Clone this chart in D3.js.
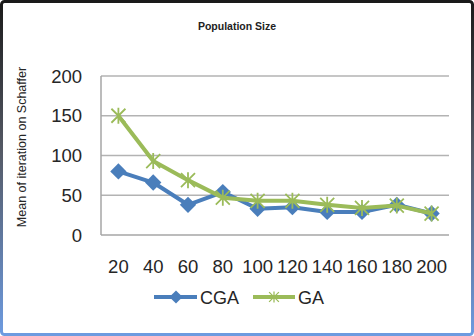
<!DOCTYPE html>
<html>
<head>
<meta charset="utf-8">
<script src="https://cdn.jsdelivr.net/npm/d3@7"></script>
<style>
  body { margin: 0; background: #fff; }
  svg { display: block; font-family: "Liberation Sans", Arial, sans-serif; }
</style>
</head>
<body>
<script>
// data
var categories = [20, 40, 60, 80, 100, 120, 140, 160, 180, 200];
var cga = [80, 66, 38, 54, 33, 35, 29, 29, 38, 27];
var ga = [150, 93, 69, 47, 43, 43, 38, 34, 37, 27];
var yTicks = [0, 50, 100, 150, 200];

var width = 474, height = 336;

var svg = d3.select("body").append("svg")
    .attr("width", width)
    .attr("height", height);

// frame with dark top fading to blue at the bottom
var grad = svg.append("defs").append("linearGradient")
    .attr("id", "frame")
    .attr("x1", 0).attr("y1", 0).attr("x2", 0).attr("y2", 1);
grad.append("stop").attr("offset", "0%").attr("stop-color", "#1a1a1a");
grad.append("stop").attr("offset", "45%").attr("stop-color", "#555a66");
grad.append("stop").attr("offset", "100%").attr("stop-color", "#6d9be0");

svg.append("rect")
    .attr("x", 1.5).attr("y", 1.5)
    .attr("width", width - 3).attr("height", height - 3)
    .attr("rx", 3)
    .style("fill", "#fff")
    .style("stroke", "url(#frame)")
    .style("stroke-width", 3);

var x = d3.scaleBand().domain(categories).range([101, 449]);
var y = d3.scaleLinear().domain([0, 200]).range([235, 76]);

// gridlines
svg.selectAll(".grid")
    .data(yTicks.filter(function (d) { return d > 0; }))
    .enter().append("line")
    .attr("x1", 101).attr("x2", 449)
    .attr("y1", function (d) { return y(d); })
    .attr("y2", function (d) { return y(d); })
    .style("stroke", "#b3b3b3")
    .style("stroke-width", 1.5);

// axes lines
svg.append("line")
    .attr("x1", 101).attr("x2", 101).attr("y1", y(200)).attr("y2", y(0))
    .style("stroke", "#a6a6a6").style("stroke-width", 1.5);
svg.append("line")
    .attr("x1", 101).attr("x2", 449).attr("y1", y(0)).attr("y2", y(0))
    .style("stroke", "#a6a6a6").style("stroke-width", 1.5);

// tick labels
svg.selectAll(".ylab")
    .data(yTicks)
    .enter().append("text")
    .attr("x", 82)
    .attr("y", function (d) { return y(d) + 6.5; })
    .attr("text-anchor", "end")
    .style("font-size", "18.5px")
    .style("fill", "#262626")
    .text(function (d) { return d; });

svg.selectAll(".xlab")
    .data(categories)
    .enter().append("text")
    .attr("x", function (d) { return x(d) + x.bandwidth() / 2; })
    .attr("y", 273)
    .attr("text-anchor", "middle")
    .style("font-size", "18.5px")
    .style("fill", "#262626")
    .text(function (d) { return d; });

// titles
svg.append("text")
    .attr("x", 237).attr("y", 30)
    .attr("text-anchor", "middle")
    .style("font-size", "10.5px")
    .style("font-weight", "bold")
    .style("fill", "#222")
    .text("Population Size");

svg.append("text")
    .attr("transform", "translate(26,147) rotate(-90)")
    .attr("text-anchor", "middle")
    .style("font-size", "12.5px")
    .style("fill", "#262626")
    .text("Mean of iteration on Schaffer");

var cx = function (d, i) { return x(categories[i]) + x.bandwidth() / 2; };

var line = d3.line()
    .x(function (d, i) { return cx(d, i); })
    .y(function (d) { return y(d); });

var blue = "#4a7ebb", green = "#9bbb59";

var diamond = d3.symbol().type(d3.symbolDiamond2).size(170);

function star(g, color) {
    g.append("path")
        .attr("d", "M-7,-7L7,7M-7,7L7,-7M0,-8L0,8")
        .style("stroke", color)
        .style("stroke-width", 1.8)
        .style("fill", "none");
}

// CGA
svg.append("path")
    .datum(cga)
    .attr("d", line)
    .style("fill", "none")
    .style("stroke", blue)
    .style("stroke-width", 4)
    .style("stroke-linejoin", "round");
svg.selectAll(".cgaPt")
    .data(cga)
    .enter().append("path")
    .attr("d", diamond)
    .attr("transform", function (d, i) { return "translate(" + cx(d, i) + "," + y(d) + ")"; })
    .style("fill", blue);

// GA
svg.append("path")
    .datum(ga)
    .attr("d", line)
    .style("fill", "none")
    .style("stroke", green)
    .style("stroke-width", 4)
    .style("stroke-linejoin", "round");
svg.selectAll(".gaPt")
    .data(ga)
    .enter().append("g")
    .attr("transform", function (d, i) { return "translate(" + cx(d, i) + "," + y(d) + ")"; })
    .each(function () { star(d3.select(this), green); });

// legend
var legend = svg.append("g");
legend.append("line")
    .attr("x1", 154).attr("x2", 197).attr("y1", 297).attr("y2", 297)
    .style("stroke", blue).style("stroke-width", 4);
legend.append("path")
    .attr("d", d3.symbol().type(d3.symbolDiamond2).size(110))
    .attr("transform", "translate(176,297)")
    .style("fill", blue);
legend.append("text")
    .attr("x", 200).attr("y", 303.5)
    .style("font-size", "18px").style("fill", "#262626")
    .text("CGA");
legend.append("line")
    .attr("x1", 253).attr("x2", 295).attr("y1", 297).attr("y2", 297)
    .style("stroke", green).style("stroke-width", 4);
star(legend.append("g").attr("transform", "translate(274,297) scale(0.7)"), green);
legend.append("text")
    .attr("x", 298).attr("y", 303.5)
    .style("font-size", "18px").style("fill", "#262626")
    .text("GA");
</script>
</body>
</html>
